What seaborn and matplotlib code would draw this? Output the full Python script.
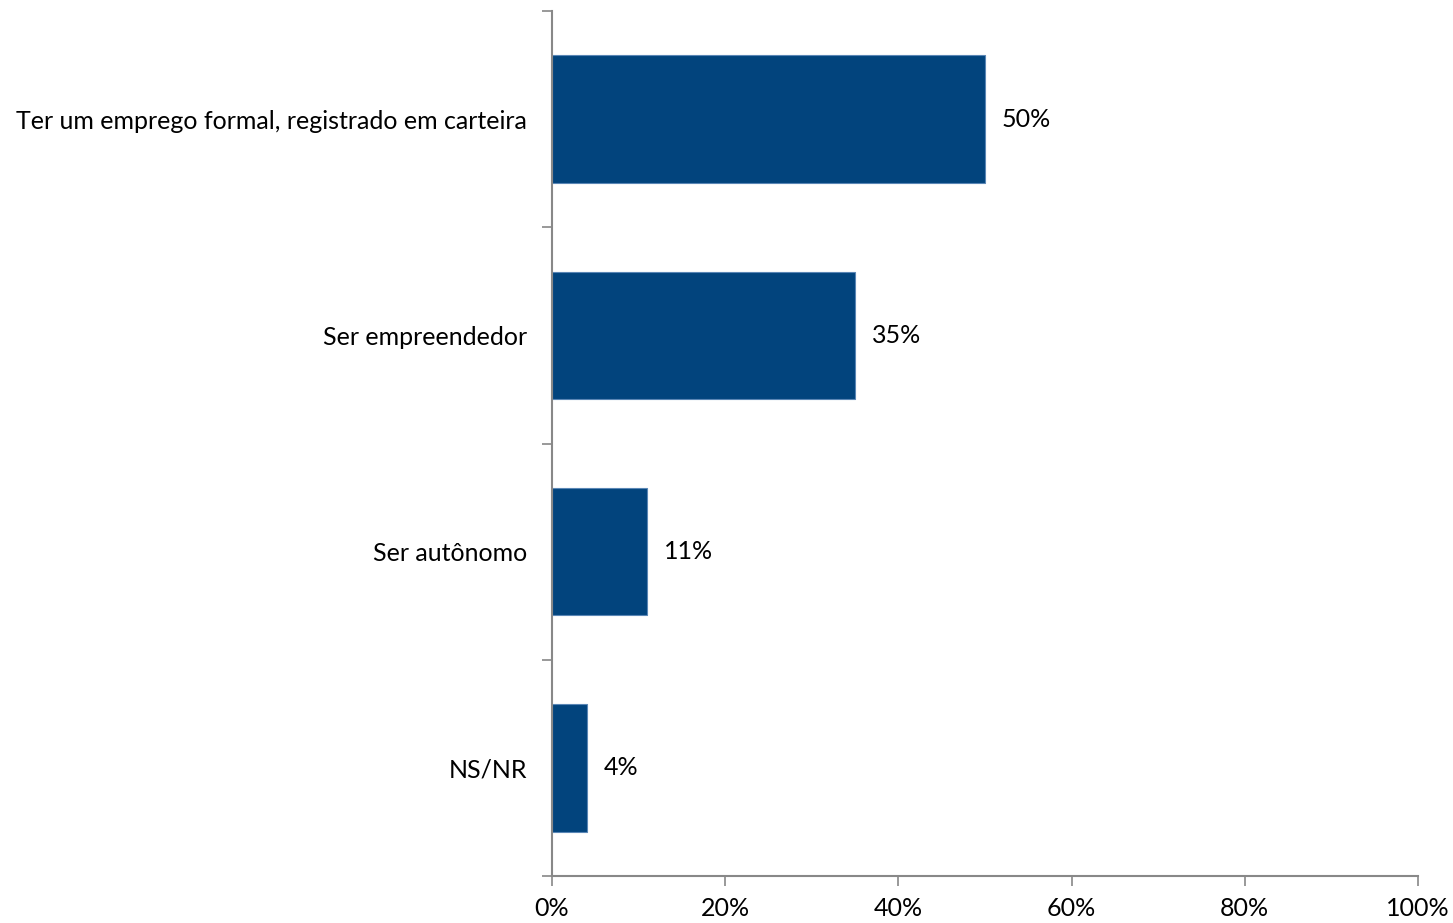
import pandas as pd
import seaborn as sns
import matplotlib.pyplot as plt
from matplotlib.ticker import PercentFormatter

categories = ['Ter um emprego formal, registrado em carteira', 'Ser empreendedor', 'Ser autônomo', 'NS/NR']
values = [50, 35, 11, 4]
xticks = [0, 20, 40, 60, 80, 100]

df = pd.DataFrame({'categoria': categories, 'pct': values})

sns.set_style('white')
plt.rcParams['font.family'] = ['Lato', 'DejaVu Sans']

fig = plt.figure(figsize=(14.53, 9.23), dpi=100)
ax = fig.add_axes([0.3799, 0.0509, 0.5960, 0.9372])

sns.barplot(data=df, x='pct', y='categoria', orient='h', color='#02447D',
            width=0.59, edgecolor='#5a86b5', linewidth=0.8, saturation=1, ax=ax)

for i, v in enumerate(values):
    ax.annotate(f'{v}%', (v, i), xytext=(12, 0), textcoords='offset points',
                va='center', ha='left', fontsize=18, color='black')

ax.set_xlim(0, 100)
ax.set_ylim(3.5, -0.5)
ax.set_xticks(xticks)
ax.xaxis.set_major_formatter(PercentFormatter(decimals=0))
ax.set_yticks([-0.5, 0.5, 1.5, 2.5, 3.5], minor=False)
ax.set_yticklabels([])
ax.set_yticks(range(len(categories)), minor=True)
ax.set_yticklabels(categories, minor=True)
ax.tick_params(axis='y', which='minor', length=0, pad=18, labelsize=18, labelcolor='black')
ax.tick_params(axis='y', which='major', length=7, width=1.2, color='#888888', direction='out', left=True)
ax.tick_params(axis='x', length=7, width=1.2, color='#888888', direction='out', bottom=True, pad=8,
               labelsize=18, labelcolor='black')
ax.set_xlabel('')
ax.set_ylabel('')

for s in ['top', 'right']:
    ax.spines[s].set_visible(False)
for s in ['left', 'bottom']:
    ax.spines[s].set_color('#888888')
    ax.spines[s].set_linewidth(1.5)

fig.savefig('out.png', dpi=100)
